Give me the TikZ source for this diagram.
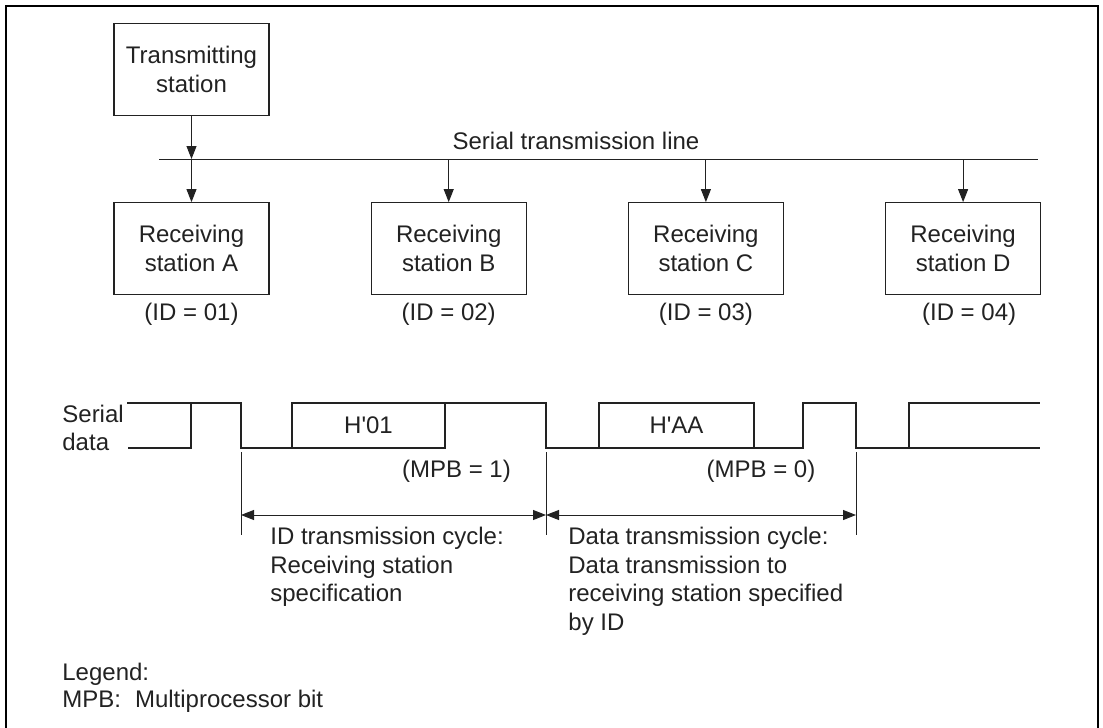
\documentclass[tikz,border=0pt]{standalone}
\usepackage{fontspec}
\setmainfont{Liberation Sans}
\usetikzlibrary{arrows.meta,positioning}
\definecolor{ink}{HTML}{222222}

\begin{document}
\begin{tikzpicture}[x=0.5pt, y=-0.5pt, >={Triangle[length=6.5pt,width=5pt]},
  every node/.style={font=\fontsize{12}{14.3}\selectfont, text=ink},
  station/.style={draw=ink, line width=0.6pt, minimum width=77.5pt, minimum height=46pt, align=center, inner sep=0pt},
  link/.style={draw=ink, line width=0.5pt, ->},
  wave/.style={draw=ink, line width=0.7pt},
  note/.style={align=left, anchor=north west, inner sep=0pt}]
\useasboundingbox (0,0) rectangle (1103,728);

% ---------- frame
\draw[line width=1pt] (6,728) -- (6,6) -- (1098,6) -- (1098,728);

% ---------- stations on the serial line
\node[station] (tx) at (191.5,69.5) {Transmitting\\station};
\node[station, below=43pt of tx] (rxA) {Receiving\\station A};
\node[station, right=50.5pt of rxA] (rxB) {Receiving\\station B};
\node[station, right=50.5pt of rxB] (rxC) {Receiving\\station C};
\node[station, right=50.5pt of rxC] (rxD) {Receiving\\station D};

\coordinate (busL) at (159,159);
\coordinate (busR) at (1038,159);
\draw[ink, line width=0.5pt] (busL) -- (busR);
\node[anchor=base] (busname) at (576,149.5) {Serial transmission line};

\draw[link] (tx) -- (tx |- busL);
\foreach \s in {rxA,rxB,rxC,rxD}{ \draw[link] (\s |- busL) -- (\s.north); }

\foreach \s/\id in {rxA/01,rxB/02,rxC/03}{
  \path (\s.south) ++(0,25) node[anchor=base] (id\s) {(ID = \id)}; }
\path (rxD.south) ++(6,25) node[anchor=base] (idrxD) {(ID = 04)};

% ---------- serial data
\node[note] (sdata) at (62,404.3) {Serial\\data};
\draw[wave] (127,403) -- (241,403) -- (241,448) -- (292,448) -- (292,403) -- (546,403)
  -- (546,448) -- (599,448) -- (599,403) -- (754,403) -- (754,448) -- (803,448)
  -- (803,403) -- (856,403) -- (856,448) -- (909,448) -- (909,403) -- (1040,403);
\draw[wave] (128,448) -- (191,448) -- (191,403);
\draw[wave] (292,448) -- (445,448) -- (445,403);
\draw[wave] (599,448) -- (754,448);
\draw[wave] (909,448) -- (1040,448);
\node (h01) at (368.5,425.5) {H\textquotesingle 01};
\node (haa) at (676.5,425.5) {H\textquotesingle AA};

\node[anchor=base] (mpb1) at (456.5,477) {(MPB = 1)};
\node[anchor=base] (mpb0) at (761,477) {(MPB = 0)};

% ---------- cycles
\foreach \x/\n in {241/c1,546/c2,856/c3}{
  \draw[ink, line width=0.5pt] (\x,452) -- (\x,535);
  \coordinate (\n) at (\x,515); }
\draw[link, <->] (c1) -- (c2);
\draw[link, <->] (c2) -- (c3);

\node[note] (idcycle) at (270,526.8) {ID transmission cycle:\\Receiving station\\specification};
\node[note] (datacycle) at (568,526.8) {Data transmission cycle:\\Data transmission to\\receiving station specified\\by ID};

% ---------- legend
\node[note, font=\fontsize{12}{13.5}\selectfont] (legend) at (62,662.6) {Legend:\\MPB:\hspace{7pt}Multiprocessor bit};

\end{tikzpicture}
\end{document}
